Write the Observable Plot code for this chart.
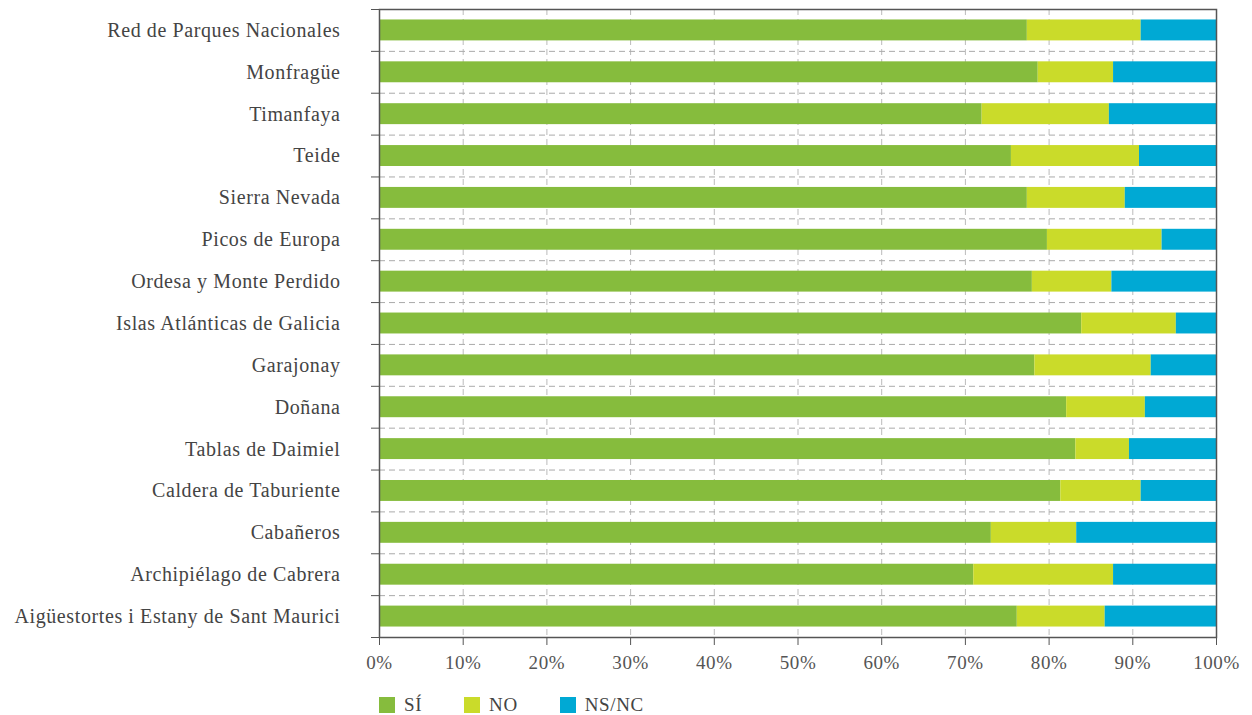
<!DOCTYPE html>
<html>
<head>
<meta charset="utf-8">
<script src="https://cdn.jsdelivr.net/npm/d3@7"></script>
<script src="https://cdn.jsdelivr.net/npm/@observablehq/plot@0.6"></script>
<style>
  body { margin: 0; background: #fff; font-family: "Liberation Serif", serif; color: #444; }
  svg text { letter-spacing: 0.6px; }
  #legend { display: flex; align-items: center; padding-left: 379px; margin-top: 9px; font-size: 19px; letter-spacing: 0.6px; }
  .item { display: flex; align-items: center; margin-right: 42px; }
  .sw { width: 16px; height: 16px; margin-right: 9px; }
</style>
</head>
<body>
<div id="chart"></div>
<div id="legend"></div>
<script>
const parks = [
  "Red de Parques Nacionales",
  "Monfragüe",
  "Timanfaya",
  "Teide",
  "Sierra Nevada",
  "Picos de Europa",
  "Ordesa y Monte Perdido",
  "Islas Atlánticas de Galicia",
  "Garajonay",
  "Doñana",
  "Tablas de Daimiel",
  "Caldera de Taburiente",
  "Cabañeros",
  "Archipiélago de Cabrera",
  "Aigüestortes i Estany de Sant Maurici"
];
const si   = [77.4, 78.7, 72.0, 75.5, 77.4, 79.8, 78.0, 83.9, 78.3, 82.1, 83.2, 81.4, 73.1, 71.0, 76.2];
const no   = [13.6,  9.0, 15.2, 15.3, 11.7, 13.7,  9.5, 11.3, 13.9,  9.4,  6.4,  9.6, 10.2, 16.7, 10.5];
const nsnc = [ 9.0, 12.3, 12.8,  9.2, 10.9,  6.5, 12.5,  4.8,  7.8,  8.5, 10.4,  9.0, 16.7, 12.3, 13.3];
const responses = ["SÍ", "NO", "NS/NC"];
const colors = ["#86bc3d", "#cadb2a", "#00a9d4"];
const xTicks = [0, 10, 20, 30, 40, 50, 60, 70, 80, 90, 100];

const series = [si, no, nsnc];
const rows = [];
parks.forEach((park, i) => {
  let x0 = 0;
  series.forEach((s, j) => {
    rows.push({park, i, response: responses[j], x1: x0, x2: x0 + s[i]});
    x0 += s[i];
  });
});

const n = parks.length;
const chart = Plot.plot({
  width: 1252,
  height: 685,
  marginLeft: 379,
  marginRight: 36,
  marginTop: 9,
  marginBottom: 48,
  style: {fontFamily: "Liberation Serif, serif", fontSize: "19px", color: "#444", background: "#fff"},
  x: {domain: [0, 100], label: null},
  y: {domain: [0, n], reverse: true, label: null},
  color: {domain: responses, range: colors},
  marks: [
    Plot.ruleX(xTicks.slice(1, -1), {stroke: "#bbb", strokeDasharray: "6,4", strokeWidth: 1}),
    Plot.ruleY(d3.range(1, n), {stroke: "#aaa", strokeDasharray: "6,4", strokeWidth: 1}),
    Plot.rect(rows, {x1: "x1", x2: "x2", y1: d => d.i + 0.25, y2: d => d.i + 0.75, fill: "response"}),
    Plot.frame({stroke: "#555", strokeWidth: 1.5}),
    Plot.axisX(xTicks, {tickSize: 8, tickPadding: 10, tickFormat: d => d + "%", fontSize: 19, stroke: "#555", fill: "#555"}),
    Plot.axisY(d3.range(0, n + 1), {tickSize: 8, tickFormat: () => "", stroke: "#555"}),
    Plot.axisY(parks.map((_, i) => i + 0.5), {tickSize: 0, tickPadding: 39, tickFormat: d => parks[Math.floor(d)], fontSize: 20, fill: "#444"})
  ]
});
document.getElementById("chart").appendChild(chart);

const legend = document.getElementById("legend");
responses.forEach((r, j) => {
  const item = document.createElement("div");
  item.className = "item";
  const sw = document.createElement("div");
  sw.className = "sw";
  sw.style.background = colors[j];
  const t = document.createElement("span");
  t.textContent = r;
  item.appendChild(sw);
  item.appendChild(t);
  legend.appendChild(item);
});
</script>
</body>
</html>
